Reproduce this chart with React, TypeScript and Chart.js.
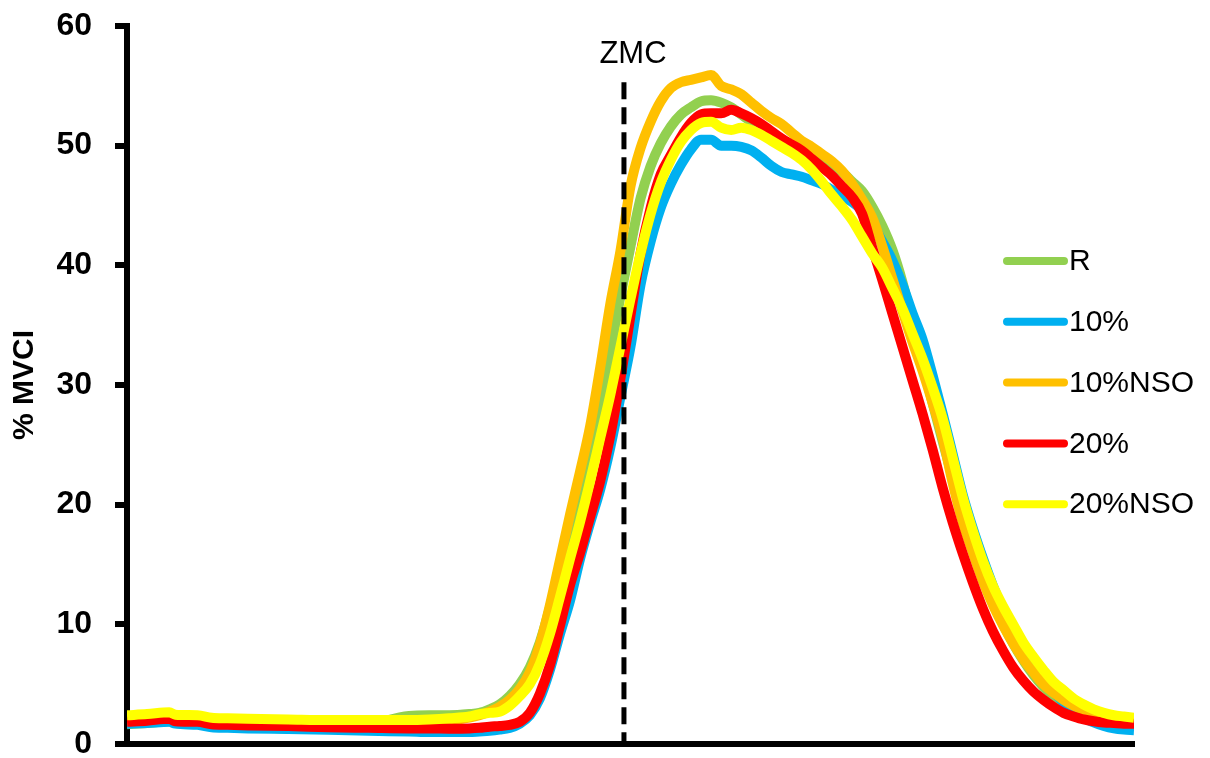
import React, { useEffect, useRef } from "react";
import { Chart, registerables } from "chart.js";

Chart.register(...registerables);

const FONT = "'Liberation Sans', Arial, sans-serif";

// shared x positions (time, arbitrary units 0..100)
const XS = [
  0, 2, 4.2, 4.8, 7, 8.4, 10, 12, 16, 20, 24, 28, 30, 32,
  34, 35, 36, 37, 38, 39, 40, 41, 42, 43, 44, 45, 46, 47, 48, 49,
  50, 51, 52, 53, 54, 55, 56, 57, 58, 59, 60, 61, 62, 63, 64, 65, 66, 67, 68, 69,
  70, 71, 72, 73, 74, 75, 76, 77, 78, 79, 80, 81, 82, 83, 84, 85, 86, 87, 88, 89,
  90, 91, 92, 93, 94, 95, 96, 97, 98, 99, 100,
];

const SERIES_NAMES = ["R", "10%", "10%NSO", "20%", "20%NSO"];
const SERIES_COLORS = ["#92D050", "#00B0F0", "#FFC000", "#FF0000", "#FFFF00"];

const R_VALUES = [
  1.65, 1.75, 1.9, 1.75, 1.7, 1.5, 1.45, 1.4, 1.3, 1.3, 1.6, 2.35, 2.4, 2.4,
  2.5, 2.6, 2.9, 3.3, 4.0, 5.0, 6.4, 8.5, 11.4, 14.8, 18.0, 21.2, 24.6, 28.4, 32.8, 37.4,
  41.6, 45.6, 48.3, 50.2, 51.6, 52.6, 53.2, 53.7, 53.8, 53.6, 53.2, 52.6, 52.0, 51.5, 51.0, 50.5, 50.0, 49.5, 49.0, 48.6,
  48.3, 47.8, 47.0, 46.2, 44.9, 43.3, 41.3, 38.6, 35.2, 31.8, 28.5, 25.3, 22.2, 19.3, 16.5, 14.0, 11.8, 10.0, 8.4, 7.0,
  5.8, 4.8, 4.0, 3.3, 2.8, 2.4, 2.1, 1.9, 1.7, 1.6, 1.55,
];

const P10_VALUES = [
  1.7, 1.75, 1.85, 1.7, 1.6, 1.4, 1.35, 1.3, 1.25, 1.2, 1.1, 1.05, 1.0, 1.0,
  1.0, 1.05, 1.1, 1.2, 1.35, 1.7, 2.4, 3.8, 6.2, 9.2, 12.0, 15.5, 18.5, 21.3, 24.8, 29.0,
  33.2, 38.4, 42.0, 44.8, 46.8, 48.4, 49.7, 50.5, 50.5, 50.0, 50.0, 49.9, 49.6, 49.0, 48.3, 47.8, 47.6, 47.4, 47.1, 46.8,
  46.3, 45.8, 45.3, 44.6, 43.5, 42.0, 40.4, 38.4, 36.0, 33.8, 30.8, 27.6, 24.2, 20.8, 18.0, 15.5, 13.2, 11.2, 9.5, 8.0,
  6.6, 5.4, 4.4, 3.5, 2.8, 2.2, 1.8, 1.5, 1.3, 1.2, 1.15,
];

const P10NSO_VALUES = [
  2.0, 2.1, 2.2, 2.0, 1.95, 1.8, 1.75, 1.7, 1.6, 1.55, 1.5, 1.6, 1.75, 1.95,
  2.2, 2.4, 2.7, 3.1, 3.7, 4.6, 6.0, 8.3, 11.6, 15.4, 19.2, 22.8, 26.6, 31.5, 36.8, 41.2,
  46.6, 49.8, 52.0, 53.7, 54.8, 55.3, 55.5, 55.7, 55.9, 55.0, 54.7, 54.3, 53.6, 52.9, 52.3, 51.8, 51.1, 50.4, 49.9, 49.3,
  48.7, 47.9, 46.8, 45.5, 44.0, 41.6, 38.9, 36.2, 33.6, 31.2, 28.5, 25.6, 21.8, 18.5, 16.0, 13.6, 11.6, 9.9, 8.4, 7.1,
  6.0, 5.0, 4.3, 3.7, 3.2, 2.8, 2.5, 2.3, 2.1, 2.0, 2.0,
];

const P20_VALUES = [
  1.85, 1.95, 2.1, 1.9, 1.85, 1.65, 1.6, 1.55, 1.5, 1.4, 1.35, 1.3, 1.3, 1.28,
  1.3, 1.35, 1.45, 1.5, 1.6, 1.85, 2.6, 4.2, 6.6, 9.9, 13.3, 16.0, 19.0, 22.0, 25.8, 30.5,
  35.8, 41.0, 44.8, 47.6, 49.2, 50.7, 51.9, 52.6, 52.7, 52.7, 53.0, 52.7, 52.3, 51.8, 51.2, 50.6, 50.1, 49.6, 48.9, 48.2,
  47.5, 46.6, 45.7, 44.3, 41.5, 38.8, 36.0, 33.2, 30.4, 27.6, 24.6, 21.4, 18.5, 15.9, 13.5, 11.3, 9.4, 7.8, 6.4, 5.3,
  4.4, 3.7, 3.1, 2.6, 2.3, 2.05, 1.9, 1.8, 1.75, 1.7, 1.7,
];

const P20NSO_VALUES = [
  2.4, 2.5, 2.65, 2.45, 2.4, 2.2, 2.15, 2.1, 2.05, 2.0, 2.0, 2.0, 2.05, 2.15,
  2.3, 2.5, 2.6, 2.7, 3.2, 4.0, 5.0, 6.7, 9.2, 12.3, 15.5, 18.6, 22.0, 25.6, 29.2, 33.2,
  37.2, 41.0, 44.3, 46.9, 48.8, 50.3, 51.3, 51.9, 52.0, 51.5, 51.3, 51.5, 51.3, 50.9, 50.4, 49.9, 49.4, 48.8, 48.0, 47.0,
  45.9, 44.9, 43.8, 42.4, 41.0, 39.8, 38.1, 36.4, 34.3, 32.2, 29.8, 27.2, 23.9, 20.6, 17.8, 15.3, 13.2, 11.5, 10.0, 8.5,
  7.3, 6.2, 5.2, 4.5, 3.8, 3.3, 2.9, 2.6, 2.4, 2.3, 2.2,
];

const SERIES_VALUES = [R_VALUES, P10_VALUES, P10NSO_VALUES, P20_VALUES, P20NSO_VALUES];

const Y_MIN = 0;
const Y_MAX = 60;
const Y_STEP = 10;
const Y_TITLE = "% MVCI";

const ZMC_X = 49.35;
const ZMC_TOP = 55.3;
const ZMC_LABEL = "ZMC";
const ZMC_LABEL_Y = 57.6;

const overlayPlugin = {
  id: "overlay",
  afterDatasetsDraw(chart: any) {
    const { ctx } = chart;
    const x = chart.scales.x;
    const y = chart.scales.y;
    const px = x.getPixelForValue(ZMC_X);
    ctx.save();
    // ZMC dashed line
    ctx.strokeStyle = "#000";
    ctx.lineWidth = 5;
    ctx.setLineDash([17, 8]);
    ctx.beginPath();
    ctx.moveTo(px, y.getPixelForValue(ZMC_TOP));
    ctx.lineTo(px, y.getPixelForValue(Y_MIN));
    ctx.stroke();
    ctx.setLineDash([]);
    ctx.fillStyle = "#000";
    ctx.font = `31px ${FONT}`;
    ctx.textAlign = "center";
    ctx.textBaseline = "middle";
    ctx.fillText(ZMC_LABEL, px + 9, y.getPixelForValue(ZMC_LABEL_Y));

    // legend
    const lx0 = 1007;
    const lx1 = 1064;
    const ly0 = 261;
    const lstep = 60.8;
    ctx.lineCap = "round";
    ctx.lineWidth = 8;
    ctx.font = `30px ${FONT}`;
    ctx.textAlign = "left";
    SERIES_NAMES.forEach((name, i) => {
      const ly = ly0 + i * lstep;
      ctx.strokeStyle = SERIES_COLORS[i];
      ctx.beginPath();
      ctx.moveTo(lx0, ly);
      ctx.lineTo(lx1, ly);
      ctx.stroke();
      ctx.fillStyle = "#000";
      ctx.fillText(name, 1069, ly + 1);
    });
    ctx.restore();
  },
};

export default function App() {
  const canvasRef = useRef<HTMLCanvasElement | null>(null);

  useEffect(() => {
    if (!canvasRef.current) return;
    const datasets = SERIES_NAMES.map((name, i) => ({
      label: name,
      data: XS.map((xv, j) => ({ x: xv, y: SERIES_VALUES[i][j] })),
      borderColor: SERIES_COLORS[i],
      backgroundColor: SERIES_COLORS[i],
      borderWidth: 10,
      pointRadius: 0,
      cubicInterpolationMode: "monotone" as const,
      fill: false,
      borderJoinStyle: "round" as const,
      order: SERIES_NAMES.length - i,
    }));

    const chart = new Chart(canvasRef.current, {
      type: "line",
      data: { datasets },
      options: {
        responsive: true,
        maintainAspectRatio: false,
        animation: false,
        layout: { padding: { top: 26, right: 76, bottom: 0, left: 0 } },
        plugins: { legend: { display: false }, tooltip: { enabled: false } },
        scales: {
          x: {
            type: "linear",
            min: 0,
            max: 100,
            ticks: { display: false },
            grid: { display: false },
            border: { display: true, color: "#000", width: 6 },
            afterFit: (s: any) => {
              s.height = 14;
              s.paddingLeft = 0;
              s.paddingRight = 0;
            },
          },
          y: {
            min: Y_MIN,
            max: Y_MAX,
            ticks: {
              stepSize: Y_STEP,
              color: "#000",
              padding: 23,
              font: { family: FONT, size: 32, weight: "bold" },
            },
            grid: {
              drawOnChartArea: false,
              drawTicks: true,
              tickLength: 12,
              color: "#000",
              lineWidth: 6,
            },
            border: { display: true, color: "#000", width: 6 },
            title: {
              display: true,
              text: Y_TITLE,
              color: "#000",
              font: { family: FONT, size: 30, weight: "bold" },
              padding: { top: 7, bottom: 0 },
            },
            afterFit: (s: any) => {
              s.width = 127;
              s.paddingTop = 0;
              s.paddingBottom = 0;
            },
          },
        },
      } as any,
      plugins: [overlayPlugin],
    });
    return () => chart.destroy();
  }, []);

  return (
    <div style={{ position: "fixed", left: 0, top: 0, width: 1210, height: 758, background: "#fff" }}>
      <canvas ref={canvasRef} />
    </div>
  );
}
